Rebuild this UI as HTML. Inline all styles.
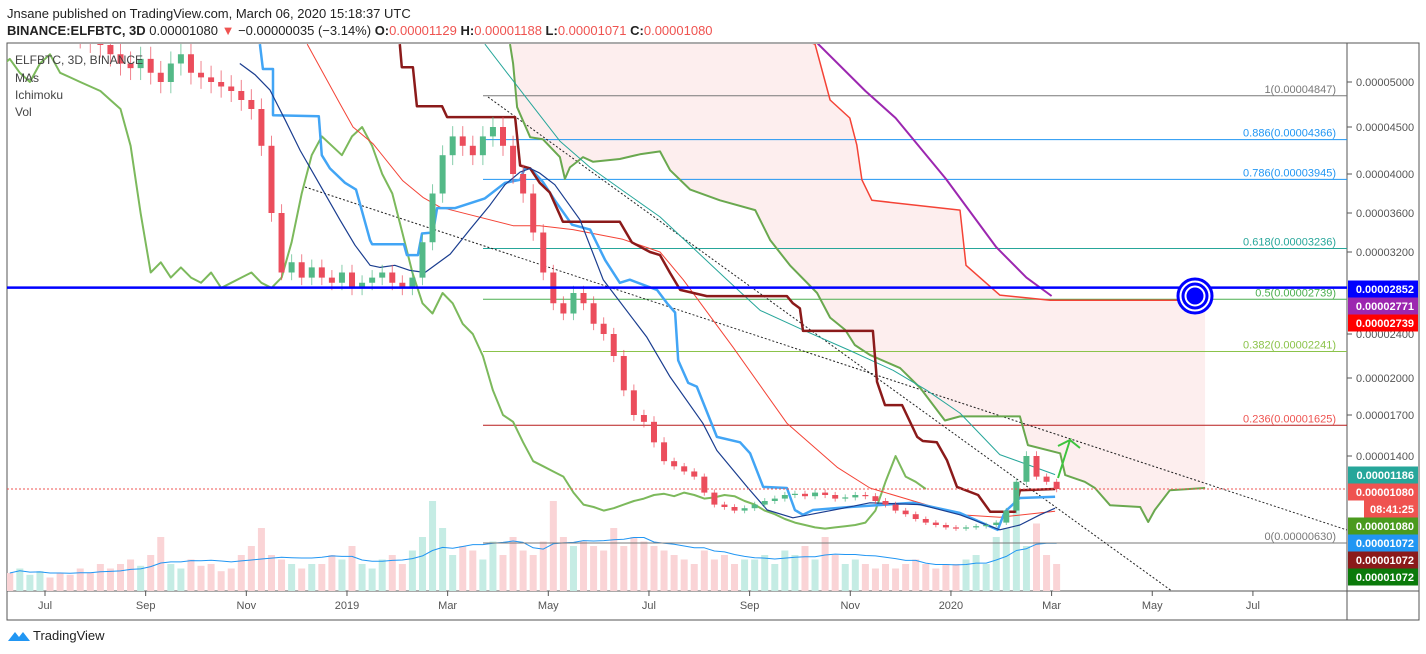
<!DOCTYPE html>
<html><head><meta charset="utf-8"><style>
body{margin:0;background:#fff;width:1426px;height:654px;overflow:hidden;font-family:"Liberation Sans",sans-serif}
svg{position:absolute;left:0;top:0}
</style></head><body>
<svg id="c" width="1426" height="654">
<defs><clipPath id="pc"><rect x="7" y="44" width="1340" height="547"/></clipPath></defs>
<text x="7" y="18" font-size="13" fill="#222">Jnsane published on TradingView.com, March 06, 2020 15:18:37 UTC</text>
<text x="7" y="35" font-size="13" fill="#222"><tspan font-weight="bold">BINANCE:ELFBTC, 3D</tspan> 0.00001080 <tspan fill="#ef5350">▼</tspan> −0.00000035 (−3.14%) <tspan font-weight="bold">O:</tspan><tspan fill="#ef5350">0.00001129</tspan> <tspan font-weight="bold">H:</tspan><tspan fill="#ef5350">0.00001188</tspan> <tspan font-weight="bold">L:</tspan><tspan fill="#ef5350">0.00001071</tspan> <tspan font-weight="bold">C:</tspan><tspan fill="#ef5350">0.00001080</tspan></text>
<rect x="7" y="43" width="1412" height="577" fill="none" stroke="#555"/>
<line x1="1347" y1="43" x2="1347" y2="620" stroke="#555"/>
<line x1="7" y1="591" x2="1419" y2="591" stroke="#555"/>
<g id="plot" clip-path="url(#pc)"></g>
<g id="axes"></g>
<g font-size="12" fill="#444">
<text x="15" y="64">ELFBTC, 3D, BINANCE</text><text x="15" y="82">MAs</text><text x="15" y="99">Ichimoku</text><text x="15" y="116">Vol</text></g>
<g><path d="M8 641 l7-9 4 5 4-5 7 9z" fill="#2196f3"/><text x="33" y="640" font-size="13" fill="#222">TradingView</text></g>
</svg>
<script>
const closes=[5600,5700,5800,5900,5800,5700,5600,5500,5450,5400,
5300,5200,5150,5250,5100,5000,5200,5300,5100,5050,5000,4950,4900,4800,
4700,4300,3600,3000,3100,2950,3050,
2950,2900,3000,2850,2900,2950,3000,2900,2850,2950,
3300,3800,4200,4400,4300,4200,4400,4500,4300,4000,3800,
3400,3000,2700,2600,2800,2700,2500,2400,2200,1900,1700,1650,
1500,1350,1300,1250,1200,1050,950,930,900,920,
950,980,1000,1030,1040,1020,1050,1030,1000,1010,1030,
1020,980,950,900,870,830,800,780,760,750,
760,770,780,800,900,1150,1400,1200,1150,1080];
const volumes=[20,25,18,22,15,20,18,25,20,30,
25,30,35,28,40,60,30,25,35,28,30,22,25,40,
50,70,40,35,30,25,30,
30,40,35,50,30,25,35,40,30,45,
60,100,70,40,50,45,35,55,40,60,45,
40,55,100,60,50,55,50,45,70,50,60,55,
50,45,40,35,30,45,35,40,30,35,
35,40,30,45,40,50,35,60,40,30,35,
30,25,30,25,30,35,30,25,30,30,
35,40,30,60,70,100,50,75,40,30];
// [month since Jul 2018, price in satoshi]
const tenkan=[[4.27,5410],[4.33,5140],[4.53,5140],[4.53,4630],[5.44,4620],[5.50,4200],[5.66,4060],[5.96,3910],[6.18,3840],[6.46,3320],[6.50,3280],[7.13,3280],[7.19,3170],[7.41,3170],[7.49,3390],[7.71,3400],[7.79,3650],[8.15,3650],[8.74,3750],[9.14,3910],[9.44,3940],[9.54,4070],[9.64,4060],[9.89,3920],[10.13,3730],[10.47,3480],[10.83,3430],[11.13,3120],[11.42,2900],[11.62,2930],[12.16,2830],[12.36,2700],[12.52,2610],[12.58,2160],[12.78,1960],[12.95,1930],[13.35,1540],[13.81,1500],[14.01,1420],[14.27,1100],[14.74,1090],[14.90,905],[15.06,865],[15.26,905],[15.99,930],[17.25,965],[18.18,880],[18.93,740],[19.07,890],[19.37,1005],[20.07,1015]];
const kijun=[[7.05,5410],[7.09,5160],[7.31,5160],[7.39,4730],[7.89,4730],[7.99,4610],[9.34,4610],[9.44,4090],[9.64,4060],[9.83,3910],[10.03,3810],[10.29,3510],[11.42,3510],[11.66,3300],[12.02,3200],[12.22,3170],[12.42,2995],[12.62,2830],[13.15,2770],[14.74,2770],[14.86,2700],[15.00,2650],[15.06,2430],[16.45,2430],[16.53,1970],[16.69,1780],[17.03,1780],[17.33,1540],[17.44,1510],[17.72,1500],[17.92,1360],[18.12,1100],[18.54,1030],[18.78,890],[19.27,890],[19.37,1070],[20.07,1080]];
const maBlue=[[3.87,5200],[4.17,5080],[4.47,4910],[4.77,4580],[5.07,4250],[5.46,3890],[5.86,3530],[6.16,3270],[6.46,3070],[6.66,3050],[6.95,3070],[7.25,3020],[7.55,3000],[8.05,3180],[8.44,3430],[8.84,3680],[9.14,3890],[9.44,4020],[9.64,4060],[9.83,4010],[10.13,3890],[10.63,3530],[11.09,2930],[11.96,2370],[12.42,2010],[13.07,1640],[13.35,1440],[13.95,1100],[14.35,905],[14.86,840],[15.86,920],[16.39,965],[17.39,950],[18.18,865],[18.97,740],[19.37,780],[19.77,865],[20.07,920]];
const maRed=[[5.21,5410],[5.86,4760],[6.12,4500],[6.52,4320],[7.11,3930],[7.51,3760],[7.85,3660],[9.30,3470],[9.83,3470],[10.49,3430],[11.48,3330],[12.22,3200],[12.68,2930],[13.67,2280],[14.74,1640],[15.74,1290],[16.39,1090],[18.18,865],[18.97,845],[20.07,895]];
const maTeal=[[8.74,5410],[9.50,4870],[10.23,4350],[10.83,4070],[11.48,3830],[12.22,3560],[13.55,2930],[14.21,2630],[15.06,2440],[15.99,2250],[16.85,2070],[17.52,1900],[18.18,1715],[18.97,1410],[20.07,1220]];
const spanA=[[9.24,5410],[9.30,5200],[9.38,4720],[9.64,4390],[9.89,4370],[10.23,4180],[10.33,3950],[10.43,4070],[10.69,4180],[10.89,4130],[11.42,4160],[11.82,4210],[12.22,4240],[12.42,4040],[12.82,3840],[13.41,3730],[14.11,3630],[14.41,3320],[14.80,3070],[15.34,2800],[15.60,2560],[15.90,2440],[16.09,2300],[16.39,2210],[16.99,2090],[17.39,1920],[17.88,1660],[18.18,1690],[19.37,1690],[19.53,1480],[20.17,1420],[20.27,1215],[20.66,1150],[20.86,1090],[21.16,945],[21.76,930],[21.92,805],[22.05,905],[22.35,1070],[23.05,1090]];
const spanB=[[9.24,6500],[15.30,5410],[15.60,4800],[15.99,4600],[16.13,4310],[16.23,3940],[16.43,3730],[18.18,3630],[18.30,3070],[18.97,2780],[19.97,2730],[23.05,2730]];
const purpleMA=[[15.2,5500],[16.3,4900],[16.9,4600],[17.9,3950],[18.9,3250],[19.5,2950],[20.0,2771]];
const fibLevels=[1,0.886,0.786,0.618,0.5,0.382,0.236,0];
const fibValues=[4847,4366,3945,3236,2739,2241,1625,630];
const priceTicks=[5000,4500,4000,3600,3200,2400,2000,1700,1400];
const timeLabels=["Jul","Sep","Nov","2019","Mar","May","Jul","Sep","Nov","2020","Mar","May","Jul"];
const timeMonths=[0,2,4,6,8,10,12,14,16,18,20,22,24];
const tagValues=["0.00002852","0.00002771","0.00002739","0.00001186","0.00001080","08:41:25","0.00001080","0.00001072","0.00001072","0.00001072"];

const NS="http://www.w3.org/2000/svg";
const VT=[6500,5400,5000,4500,4000,3600,3200,2400,2000,1700,1400,1080,630,300];
const YT=[-55,45,82,127,174,213,252,334,378,415,456,489,543,585];
function yv(v){for(let k=0;k<VT.length-1;k++){if(v>=VT[k+1]||k==VT.length-2){return YT[k]+(v-VT[k])/(VT[k+1]-VT[k])*(YT[k+1]-YT[k]);}}}
function xm(m){return 45+m*50.33;}
function xi(i){return xm(-0.7+0.2*i);}
const plot=document.getElementById('plot'),axes=document.getElementById('axes');
function el(t,a,p){const e=document.createElementNS(NS,t);for(const k in a)e.setAttribute(k,a[k]);(p||plot).appendChild(e);return e;}
function pstr(pts){return pts.map(p=>p[0].toFixed(1)+','+p[1].toFixed(1)).join(' ');}
function poly(pts,stroke,w,name){const e=el('polyline',{points:pstr(pts),fill:'none',stroke:stroke,'stroke-width':w,'stroke-linejoin':'round'});

return e;}
function mv(arr){return arr.map(p=>[xm(p[0]),yv(p[1])]);}
const N=closes.length;
const opens=closes.map((c,i)=>i?closes[i-1]:c*1.02);
const highs=closes.map((c,i)=>Math.max(c,opens[i])*1.025);
const lows=closes.map((c,i)=>Math.min(c,opens[i])*0.975);
function sma(a,n){return a.map((_,i)=>{let s=0,c=0;for(let j=Math.max(0,i-n+1);j<=i;j++){s+=a[j];c++;}return s/c;});}
// cloud
const cl=el('polygon',{points:pstr(mv(spanA).concat(mv(spanB).reverse())),fill:'#fdeeee',stroke:'none'});


// volumes
for(let i=0;i<N;i++){const up=closes[i]>=opens[i];
const r=el('rect',{x:xi(i)-3.5,y:591-volumes[i]*0.9,width:7,height:volumes[i]*0.9,fill:up?'#c5ece4':'#fad4d6'});

}
poly(sma(volumes,10).map((v,i)=>[xi(i),591-v*0.9]),'#2196f3',1,'volume-ma-line');
// fib
const fibColors=['#787878','#2196f3','#2196f3','#26a69a','#4caf50','#8bc34a','#b71c1c','#787878'];
fibLevels.forEach((f,k)=>{const y=yv(fibValues[k]);
const l=el('line',{x1:483,x2:1347,y1:y,y2:y,stroke:fibColors[k],'stroke-width':1});


const t=el('text',{x:1336,y:y-3,'text-anchor':'end','font-size':11,fill:fibColors[k]==='#b71c1c'?'#ef5350':fibColors[k]});
t.textContent=f+'(0.0000'+String(fibValues[k]).padStart(4,'0')+')';

});
const t1=el('line',{x1:305,y1:187,x2:1347,y2:530,stroke:'#222','stroke-dasharray':'2,2'});


const t2=el('line',{x1:488,y1:97,x2:1205,y2:615,stroke:'#222','stroke-dasharray':'2,2'});


// lines
poly(mv(spanA),'#6aa84f',2,'leading-span-a');
poly(mv(spanB),'#f44336',1.5,'leading-span-b');
poly(closes.map((v,i)=>[xi(i-13),yv(v)]),'#7cb95c',2,'lagging-span');
poly(mv(maTeal),'#26a69a',1,'ma-teal');
poly(mv(maRed),'#f44336',1,'ma-red');
poly(mv(tenkan),'#42a5f5',2.5,'tenkan-line');
poly(mv(kijun),'#8b1a1a',2.5,'kijun-line');
poly(mv(maBlue),'#1a3d8f',1.2,'ma-blue');
poly(mv(purpleMA),'#9c27b0',2,'ma-purple');
// candles
for(let i=0;i<N;i++){const up=closes[i]>=opens[i],col=up?'#53b987':'#eb4d5c',x=xi(i);
const w=el('line',{x1:x,x2:x,y1:yv(highs[i]),y2:yv(lows[i]),stroke:col,'stroke-width':1,'stroke-opacity':0.7});


const y1=yv(Math.max(opens[i],closes[i])),y2=yv(Math.min(opens[i],closes[i]));
const b=el('rect',{x:x-3,y:y1,width:6,height:Math.max(1,y2-y1),fill:col});

}
const hb=el('line',{x1:7,x2:1347,y1:yv(2852),y2:yv(2852),stroke:'#0000ff','stroke-width':2.5});


const hp=el('line',{x1:7,x2:1347,y1:yv(1080),y2:yv(1080),stroke:'#ef5350','stroke-dasharray':'2,2'});


[17,12,7].forEach((r,k)=>{const c=el('circle',{cx:1195,cy:296,r:r,fill:k==2?'#0000ff':'#fff',stroke:'#0000ff','stroke-width':3});

});
const ar=el('polyline',{points:'1058,478 1070,440 1058,446 1070,440 1080,448',fill:'none',stroke:'#3ec43e','stroke-width':2});


// axes
priceTicks.forEach(v=>{const y=yv(v);
el('line',{x1:1347,x2:1352,y1:y,y2:y,stroke:'#555'},axes);
const t=el('text',{x:1356,y:y+4,'font-size':11,fill:'#555'},axes);t.textContent='0.0000'+v;

});
timeLabels.forEach((s,k)=>{const x=xm(timeMonths[k]);
el('line',{x1:x,x2:x,y1:591,y2:596,stroke:'#555'},axes);
const t=el('text',{x:x,y:609,'text-anchor':'middle','font-size':11,fill:'#555'},axes);t.textContent=s;

});
const tagY=[289,306,323,475,492,509,526,543,560,577];
const tagC=['#0000ff','#9c27b0','#ff0000','#26a69a','#ef5350','#ef5350','#4a9a1e','#2196f3','#8b1a1a','#0a7a0a'];
tagValues.forEach((s,k)=>{const x0=k==5?1364:1348;
const r=el('rect',{x:x0,y:tagY[k]-8.5,width:1418-x0,height:17,fill:tagC[k]},axes);


const t=el('text',{x:1414,y:tagY[k]+4,'text-anchor':'end','font-size':11,'font-weight':'bold',fill:'#fff'},axes);t.textContent=s;

});
</script>
</body></html>
